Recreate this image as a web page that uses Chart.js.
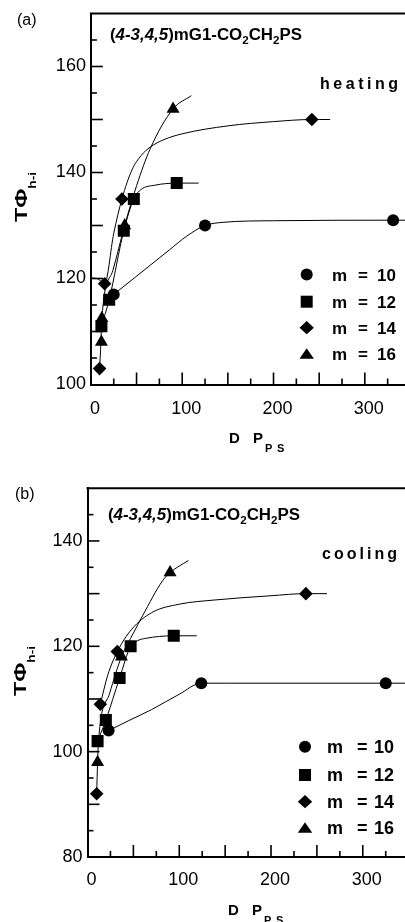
<!DOCTYPE html>
<html><head><meta charset="utf-8">
<script src="https://cdn.jsdelivr.net/npm/chart.js@4"></script>
<style>
html,body{margin:0;padding:0;background:#fff;overflow:hidden;width:405px;height:922px}
#wa{position:absolute;left:0;top:0;width:405px;height:460px}
#wb{position:absolute;left:0;top:460px;width:405px;height:462px}
</style></head><body>
<div id="wa"><canvas id="ca"></canvas></div>
<div id="wb"><canvas id="cb"></canvas></div>
<script>
// ---------- data: heating (a) ----------
const heatM10X=[25,125,331], heatM10Y=[117,130,131];
const heatM12X=[11.5,20,36,47,94], heatM12Y=[111,116,129,135,138];
const heatM14X=[9.5,15,34,242], heatM14Y=[103,119,135,150];
const heatM16X=[11.5,12,37,90], heatM16Y=[108,112.5,130,152];
// fitted curves
const heatFit10X=[25,49,86,105,125,145,200,331,344], heatFit10Y=[117,120.3,125.4,128,130,130.6,130.9,131,131];
const heatFit12X=[11.5,20,36,47,55,70,94,118], heatFit12Y=[111,116,129,135,136.8,137.6,138,138];
const heatFit14X=[0.5,8,15,25,34,45,55,65,80,100,150,200,242,262], heatFit14Y=[120.1,119.9,119,128.5,135,140.5,143.2,144.8,146.2,147.3,148.8,149.6,150,150];
const heatFit16X=[9.5,11,12,24,37,50,65,90,110], heatFit16Y=[103,108,112.5,121.5,130,137.5,144.5,152,154.5];
// ---------- data: cooling (b) ----------
const coolM10X=[23,124,325], coolM10Y=[104,113,113];
const coolM12X=[11,20,35,47,94], coolM12Y=[102,106,114,120,122];
const coolM14X=[10,14,32.5,238], coolM14Y=[92,109,119,130];
const coolM16X=[11,37,90], coolM16Y=[98,118,134];
const coolFit10X=[23,45,70,100,124,150,325,346], coolFit10Y=[104,105.9,108,110.9,113,113,113,113];
const coolFit12X=[11,20,35,47,55,63,94,119], coolFit12Y=[102,106,114,120,121.1,121.5,122,122];
const coolFit14X=[14,22,32.5,48,70,100,139,200,238,261], coolFit14Y=[109,114.5,119,123.2,126.4,128,128.8,129.6,130,130];
const coolFit16X=[10,11,12,24,37,50,60,82,90,110], coolFit16Y=[92,98,102,111,118,122.5,125.8,132.5,134,136.3];
// ---------- labels ----------
const legendLabels=['10','12','14','16'];
const legendStyles=['circle','rect','rectRot','triangle'];
const heatYTickLabels=[100,120,140,160];
const coolYTickLabels=[80,100,120,140];
const xTickLabels=[0,100,200,300];

const FONT="'Liberation Sans', Arial, Helvetica, sans-serif";
const MR={circle:6,rect:8.5,rectRot:6.8,triangle:7.5};

function pts(xs,ys){return xs.map((x,i)=>({x:x,y:ys[i]}));}
function markerDs(xs,ys,style){return {data:pts(xs,ys),pointStyle:style,pointRadius:MR[style],pointHoverRadius:MR[style],backgroundColor:'#000',borderColor:'#000',borderWidth:0,showLine:false,order:1};}
function curveDs(xs,ys){return {data:pts(xs,ys),showLine:true,pointRadius:0,pointHoverRadius:0,borderColor:'#000',borderWidth:1,cubicInterpolationMode:'monotone',fill:false,order:2};}

function drawMarker(ctx,style,x,y,s){
  ctx.beginPath();
  if(style==='circle'){ctx.arc(x,y,s,0,Math.PI*2);}
  else if(style==='rect'){ctx.rect(x-s,y-s,2*s,2*s);}
  else if(style==='rectRot'){ctx.moveTo(x-s*1.2,y);ctx.lineTo(x,y-s*1.1);ctx.lineTo(x+s*1.2,y);ctx.lineTo(x,y+s*1.1);ctx.closePath();}
  else {ctx.moveTo(x,y-s);ctx.lineTo(x+s*1.2,y+s*0.75);ctx.lineTo(x-s*1.2,y+s*0.75);ctx.closePath();}
  ctx.fill();
}
function drawSegs(ctx,segs,x,y,targetW,rot){
  let w=0; segs.forEach(s=>{ctx.font=s.f; s.w=ctx.measureText(s.t).width; w+=s.w;});
  const k=targetW? targetW/w:1;
  ctx.save(); ctx.translate(x,y); if(rot) ctx.rotate(rot); ctx.scale(k,1);
  let cx=0; segs.forEach(s=>{ctx.font=s.f; ctx.fillText(s.t,cx,s.dy||0); cx+=s.w;});
  ctx.restore();
}
function drawSpaced(ctx,text,font,x,y,targetW){
  ctx.font=font; const chars=text.split(''); const ws=chars.map(c=>ctx.measureText(c).width);
  const nat=ws.reduce((a,b)=>a+b,0); const ls=(targetW-nat)/(chars.length-1);
  let cx=x; chars.forEach((c,i)=>{ctx.fillText(c,cx,y); cx+=ws[i]+ls;});
}

function makeDeco(o){
 return {
  id:'deco',
  afterDraw(chart){
    const ctx=chart.ctx, a=chart.chartArea, xs=chart.scales.x, ys=chart.scales.y;
    ctx.save(); ctx.strokeStyle='#000'; ctx.fillStyle='#000'; ctx.textBaseline='alphabetic'; ctx.textAlign='left';
    ctx.lineWidth=2; ctx.beginPath(); ctx.moveTo(a.left-1,a.top); ctx.lineTo(chart.width,a.top); ctx.stroke();
    ctx.lineWidth=1.6;
    xs.ticks.forEach(t=>{const v=Math.round(t.value); if(v<=0) return; const px=xs.getPixelForValue(v); const len=v%50===0?12:6;
      ctx.beginPath(); ctx.moveTo(px,a.bottom); ctx.lineTo(px,a.bottom-len); ctx.stroke();});
    ys.ticks.forEach(t=>{const v=Math.round(t.value); if(v<=ys.min||v>=ys.max) return; const py=ys.getPixelForValue(v); const len=v%10===0?12:6;
      ctx.beginPath(); ctx.moveTo(a.left,py); ctx.lineTo(a.left+len,py); ctx.stroke();});
    ctx.font='16px '+FONT; ctx.fillText(o.letter,o.letterX,o.letterY);
    const B='bold 16px '+FONT, I='italic bold 16px '+FONT, S='bold 11px '+FONT;
    drawSegs(ctx,[{t:'(',f:B},{t:'4-3,4,5',f:I},{t:')mG1-CO',f:B},{t:'2',f:S,dy:4},{t:'CH',f:B},{t:'2',f:S,dy:4},{t:'PS',f:B}],o.titleX,o.titleY,o.titleW);
    drawSpaced(ctx,o.word,'bold 16px '+FONT,o.wordX,o.wordY,o.wordW);
    legendLabels.forEach((lab,i)=>{
      const y=o.legY[i];
      drawMarker(ctx,legendStyles[i],o.legSymX,y,6);
      ctx.font='bold '+o.legFont+'px '+FONT;
      ctx.fillText('m',o.legTextX,y+6);
      ctx.fillText('=',o.legTextX+o.legEq,y+6);
      ctx.fillText(lab,o.legTextX+o.legNum,y+6);
    });
    drawSegs(ctx,[{t:'T',f:'bold 17px '+FONT},{t:'\u03A6',f:'bold 17px '+FONT},{t:'h-i',f:'bold 10px '+FONT,dy:9}],o.yTitleX,o.yTitleY,50,-Math.PI/2);
    ctx.font='bold 15px '+FONT; ctx.fillText('D',o.xTitleX,o.xTitleY); ctx.fillText('P',o.xTitleX+24,o.xTitleY);
    ctx.font='bold 11px '+FONT; ctx.fillText('P',o.xTitleX+36,o.xTitleY+9); ctx.fillText('S',o.xTitleX+48,o.xTitleY+9);
    ctx.restore();
  }
 };
}

function makeChart(id,cfg){
  const c=new Chart(document.getElementById(id),{
    type:'scatter',
    data:{datasets:cfg.datasets},
    plugins:[makeDeco(cfg.deco)],
    options:{
      responsive:true, maintainAspectRatio:false, animation:false, events:[],
      layout:{autoPadding:false,padding:{top:cfg.top,left:0,right:0,bottom:0}},
      plugins:{legend:{display:false},tooltip:{enabled:false}},
      scales:{
        x:{type:'linear',min:0,max:cfg.xMax,afterFit(s){s.height=cfg.xH;s.paddingLeft=0;s.paddingRight=0;},
           grid:{display:false,drawTicks:false},border:{display:true,color:'#000',width:2},
           ticks:{stepSize:25,includeBounds:false,autoSkip:false,maxRotation:0,padding:cfg.xPad,labelOffset:4,color:'#000',
             font:{family:FONT,size:18},callback:v=>xTickLabels.includes(Math.round(v))?String(Math.round(v)):''}},
        y:{type:'linear',min:cfg.yMin,max:cfg.yMax,afterFit(s){s.width=cfg.yW;s.paddingTop=0;s.paddingBottom=0;},
           grid:{display:false,drawTicks:false},border:{display:true,color:'#000',width:2},
           ticks:{stepSize:5,includeBounds:false,autoSkip:false,padding:5,color:'#000',
             font:{family:FONT,size:18},callback:v=>cfg.yLabels.includes(Math.round(v))?String(Math.round(v)):''}}
      }
    }
  });
  return c;
}

makeChart('ca',{
  top:13.5,xMax:344,xH:75.5,yW:90.9,yMin:100,yMax:170,xPad:14,yLabels:heatYTickLabels,
  datasets:[curveDs(heatFit10X,heatFit10Y),curveDs(heatFit12X,heatFit12Y),curveDs(heatFit14X,heatFit14Y),curveDs(heatFit16X,heatFit16Y),
    markerDs(heatM10X,heatM10Y,'circle'),markerDs(heatM12X,heatM12Y,'rect'),markerDs(heatM14X,heatM14Y,'rectRot'),markerDs(heatM16X,heatM16Y,'triangle')],
  deco:{letter:'(a)',letterX:17,letterY:25,titleX:110,titleY:40,titleW:192,word:'heating',wordX:320,wordY:89,wordW:78,
    legY:[274.5,301.7,327.7,354.3],legSymX:306.7,legTextX:332,legEq:26,legNum:45,legFont:17,
    yTitleX:27,yTitleY:222,xTitleX:229,xTitleY:443}
});
makeChart('cb',{
  top:28.3,xMax:346,xH:65,yW:87.5,yMin:80,yMax:150,xPad:12,yLabels:coolYTickLabels,
  datasets:[curveDs(coolFit10X,coolFit10Y),curveDs(coolFit12X,coolFit12Y),curveDs(coolFit14X,coolFit14Y),curveDs(coolFit16X,coolFit16Y),
    markerDs(coolM10X,coolM10Y,'circle'),markerDs(coolM12X,coolM12Y,'rect'),markerDs(coolM14X,coolM14Y,'rectRot'),markerDs(coolM16X,coolM16Y,'triangle')],
  deco:{letter:'(b)',letterX:15,letterY:39,titleX:108,titleY:60,titleW:192,word:'cooling',wordX:322,wordY:99,wordW:75,
    legY:[286.7,315,341.7,368.3],legSymX:305,legTextX:327,legEq:30,legNum:47,legFont:18,
    yTitleX:26,yTitleY:236,xTitleX:228,xTitleY:455}
});
</script>
</body></html>
